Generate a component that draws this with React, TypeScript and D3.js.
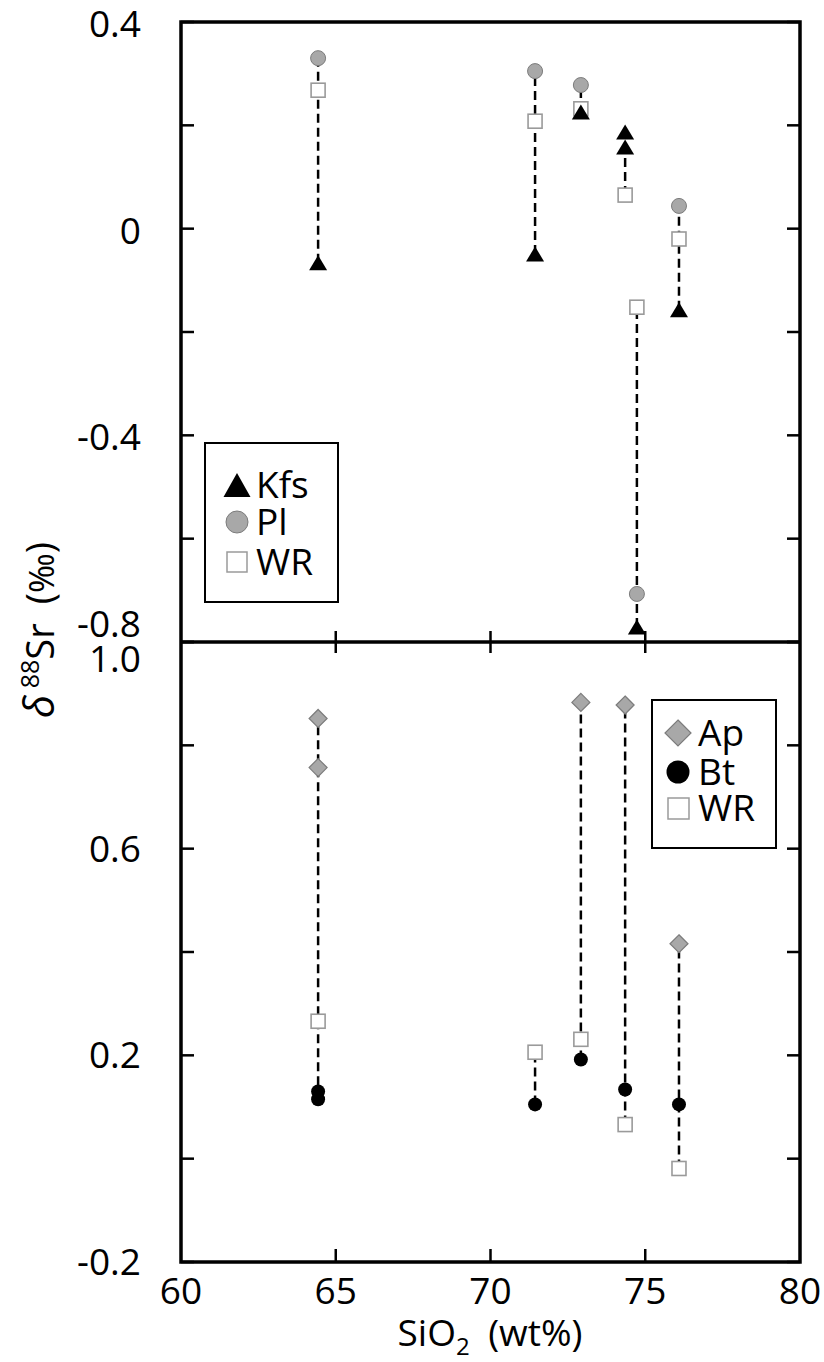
import React from 'react';
import * as d3 from 'd3';

// SiO2 (wt%) of each sample, and d88Sr values
const kfsSiO2 = [64.43, 71.44, 72.92, 74.35, 74.35, 74.73, 76.09];
const kfsSr = [-0.066, -0.049, 0.226, 0.187, 0.158, -0.771, -0.157];
const plSiO2 = [64.43, 71.44, 72.92, 74.73, 76.09];
const plSr = [0.330, 0.305, 0.278, -0.707, 0.044];
const wrTopSiO2 = [64.43, 71.44, 72.92, 74.35, 74.73, 76.09];
const wrTopSr = [0.268, 0.208, 0.232, 0.065, -0.152, -0.020];

const apSiO2 = [64.43, 64.43, 72.92, 74.35, 76.09];
const apSr = [0.852, 0.757, 0.883, 0.878, 0.416];
const btSiO2 = [64.43, 64.43, 71.44, 72.92, 74.35, 76.09];
const btSr = [0.130, 0.115, 0.105, 0.192, 0.134, 0.105];
const wrBotSiO2 = [64.43, 71.44, 72.92, 74.35, 76.09];
const wrBotSr = [0.266, 0.206, 0.231, 0.066, -0.019];

const xTicks = [60, 65, 70, 75, 80];
const topTicks = [0.4, 0.2, 0, -0.2, -0.4, -0.6, -0.8];
const topLabels = ['0.4', '', '0', '', '-0.4', '', '-0.8'];
const botTicks = [1.0, 0.8, 0.6, 0.4, 0.2, 0, -0.2];
const botLabels = ['1.0', '', '0.6', '', '0.2', '', '-0.2'];

const FONT = '"Open Sans", "DejaVu Sans", sans-serif';
const GREY = '#a8a8a8';
const GREY_STROKE = '#7c7c7c';
const SQ_STROKE = '#9a9a9a';

const left = 181, right = 800, top = 22, mid = 642, bottom = 1262;

const x = d3.scaleLinear().domain([60, 80]).range([left, right]);
const yTop = d3.scaleLinear().domain([-0.8, 0.4]).range([mid, top]);
const yBot = d3.scaleLinear().domain([-0.2, 1.0]).range([bottom, mid]);

type Pt = { x: number; y: number };
const zip = (xs: number[], ys: number[]): Pt[] => xs.map((v, i) => ({ x: v, y: ys[i] }));

const tri = (cx: number, cy: number, w: number, h: number) =>
  `M${cx - w / 2},${cy + h / 2}L${cx + w / 2},${cy + h / 2}L${cx},${cy - h / 2}Z`;
const diamond = (cx: number, cy: number, r: number) =>
  `M${cx},${cy - r}L${cx + r},${cy}L${cx},${cy + r}L${cx - r},${cy}Z`;

// vertical dashed tie lines, min to max of each sample
function tieLines(groups: Pt[][], y: d3.ScaleLinear<number, number>) {
  const all = groups.flat();
  const byX = d3.group(all, (d) => d.x);
  return Array.from(byX, ([sx, pts]) => {
    const ext = d3.extent(pts, (d) => d.y) as [number, number];
    return { sx, lo: ext[0], hi: ext[1] };
  }).map((d, i) => (
    <line key={'tie' + i} x1={x(d.sx)} x2={x(d.sx)} y1={y(d.lo)} y2={y(d.hi)}
      stroke="#000" strokeWidth={2.5} strokeDasharray="9 5" />
  ));
}

export default function App() {
  const kfs = zip(kfsSiO2, kfsSr);
  const pl = zip(plSiO2, plSr);
  const wrT = zip(wrTopSiO2, wrTopSr);
  const ap = zip(apSiO2, apSr);
  const bt = zip(btSiO2, btSr);
  const wrB = zip(wrBotSiO2, wrBotSr);

  return (
    <svg width={824} height={1362} style={{ position: 'absolute', left: 0, top: 0, background: '#fff' }}
      fontFamily={FONT}>
      {/* top panel */}
      {tieLines([kfs, pl, wrT], yTop)}
      {wrT.map((d, i) => (
        <rect key={'wt' + i} x={x(d.x) - 7} y={yTop(d.y) - 7} width={14} height={14}
          fill="#fff" stroke={SQ_STROKE} strokeWidth={1.6} />
      ))}
      {pl.map((d, i) => (
        <circle key={'pl' + i} cx={x(d.x)} cy={yTop(d.y)} r={7.5} fill={GREY} stroke={GREY_STROKE} strokeWidth={1} />
      ))}
      {kfs.map((d, i) => (
        <path key={'kf' + i} d={tri(x(d.x), yTop(d.y), 18, 15)} fill="#000" />
      ))}

      {/* bottom panel */}
      {tieLines([ap, bt, wrB], yBot)}
      {wrB.map((d, i) => (
        <rect key={'wb' + i} x={x(d.x) - 7} y={yBot(d.y) - 7} width={14} height={14}
          fill="#fff" stroke={SQ_STROKE} strokeWidth={1.6} />
      ))}
      {bt.map((d, i) => (
        <circle key={'bt' + i} cx={x(d.x)} cy={yBot(d.y)} r={7} fill="#000" />
      ))}
      {ap.map((d, i) => (
        <path key={'ap' + i} d={diamond(x(d.x), yBot(d.y), 9)} fill={GREY} stroke={GREY_STROKE} strokeWidth={1.2} />
      ))}

      {/* frame */}
      <rect x={left} y={top} width={right - left} height={bottom - top} fill="none" stroke="#000" strokeWidth={3.5} />
      <line x1={left} x2={right} y1={mid} y2={mid} stroke="#000" strokeWidth={3.5} />

      {/* y ticks */}
      {topTicks.map((t, i) => (
        <g key={'tt' + i}>
          <line x1={left} x2={left + 13} y1={yTop(t)} y2={yTop(t)} stroke="#000" strokeWidth={2.5} />
          <line x1={right - 13} x2={right} y1={yTop(t)} y2={yTop(t)} stroke="#000" strokeWidth={2.5} />
          {topLabels[i] && (
            <text x={141} y={(t === -0.8 ? 624 : yTop(t) + 2) + 13} textAnchor="end" fontSize={37}>{topLabels[i]}</text>
          )}
        </g>
      ))}
      {botTicks.map((t, i) => (
        <g key={'bt' + i}>
          <line x1={left} x2={left + 13} y1={yBot(t)} y2={yBot(t)} stroke="#000" strokeWidth={2.5} />
          <line x1={right - 13} x2={right} y1={yBot(t)} y2={yBot(t)} stroke="#000" strokeWidth={2.5} />
          {botLabels[i] && (
            <text x={141} y={(t === 1.0 ? 659 : yBot(t)) + 13} textAnchor="end" fontSize={37}>{botLabels[i]}</text>
          )}
        </g>
      ))}

      {/* x ticks */}
      {xTicks.map((t, i) => (
        <g key={'xt' + i}>
          {t > 60 && t < 80 && (
            <>
              <line x1={x(t)} x2={x(t)} y1={bottom} y2={bottom - 13} stroke="#000" strokeWidth={2.5} />
              <line x1={x(t)} x2={x(t)} y1={mid - 11} y2={mid + 11} stroke="#000" strokeWidth={2.5} />
            </>
          )}
          <text x={x(t)} y={1304} textAnchor="middle" fontSize={37}>{t}</text>
        </g>
      ))}

      {/* axis titles */}
      <text x={490} y={1346} textAnchor="middle" fontSize={37}>
        SiO<tspan fontSize={24} dy={9}>2</tspan><tspan dy={-9}>{'\u2002(wt%)'}</tspan>
      </text>
      <text transform="translate(54,630) rotate(-90)" textAnchor="middle" fontSize={38}>
        <tspan fontStyle="italic" fontSize={42}>δ</tspan>
        <tspan fontSize={25} dy={-15}>{' 88'}</tspan>
        <tspan dy={15}>Sr</tspan>
        <tspan>{'\u2002('}</tspan>
        <tspan fontSize={34}>‰</tspan>
        <tspan>)</tspan>
      </text>

      {/* legend, top */}
      <rect x={205} y={443} width={133} height={159} fill="#fff" stroke="#000" strokeWidth={2} />
      <path d={tri(237, 485, 27, 24)} fill="#000" />
      <text x={256} y={498} fontSize={37}>Kfs</text>
      <circle cx={237} cy={522} r={11} fill={GREY} stroke={GREY_STROKE} strokeWidth={1} />
      <text x={256} y={535} fontSize={37}>Pl</text>
      <rect x={227} y={552} width={20} height={20} fill="#fff" stroke={SQ_STROKE} strokeWidth={1.5} />
      <text x={256} y={575} fontSize={37}>WR</text>

      {/* legend, bottom */}
      <rect x={652} y={700} width={124} height={148} fill="#fff" stroke="#000" strokeWidth={2} />
      <path d={diamond(678, 733, 13)} fill={GREY} stroke={GREY_STROKE} strokeWidth={1.2} />
      <text x={698} y={746} fontSize={37}>Ap</text>
      <circle cx={678} cy={772} r={11.5} fill="#000" />
      <text x={698} y={785} fontSize={37}>Bt</text>
      <rect x={668} y={798} width={21} height={21} fill="#fff" stroke={SQ_STROKE} strokeWidth={1.5} />
      <text x={698} y={821} fontSize={37}>WR</text>
    </svg>
  );
}
